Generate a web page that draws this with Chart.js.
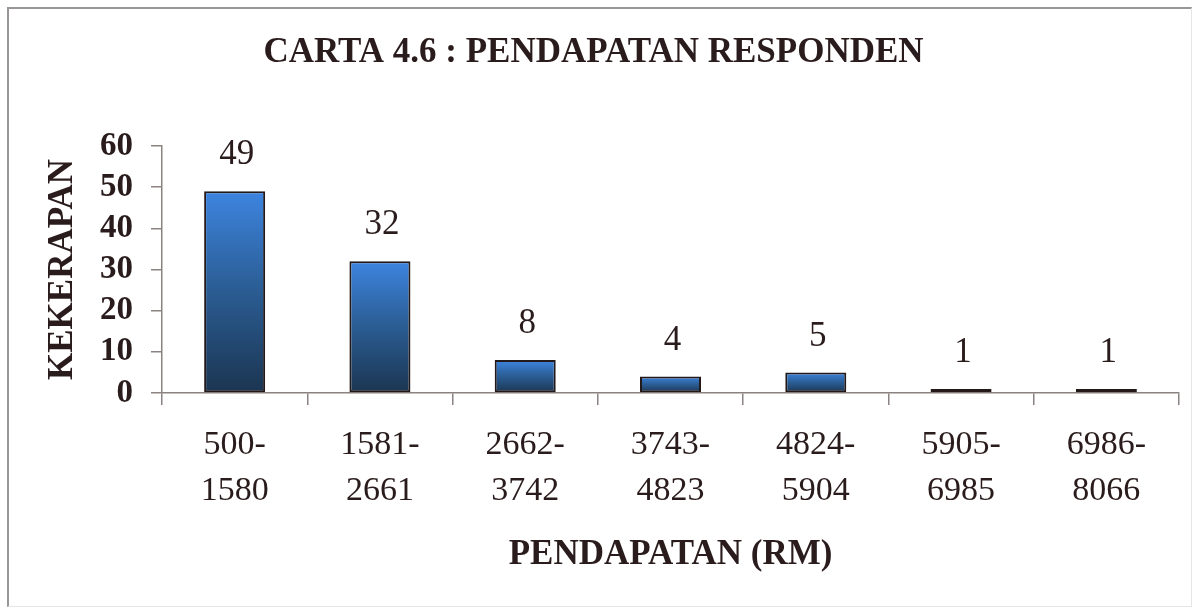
<!DOCTYPE html>
<html>
<head>
<meta charset="utf-8">
<script src="https://cdn.jsdelivr.net/npm/chart.js@4/dist/chart.umd.min.js"></script>
<style>
  html, body { margin: 0; padding: 0; background: #fff; }
  #wrap { position: relative; width: 1196px; height: 608px; }
  #frame {
    position: absolute; left: 7px; top: 7px; width: 1182px; height: 597px;
    border-left: 2px solid #9a9696; border-top: 2px solid #9a9696;
    border-right: 1px solid #e6e6e6; border-bottom: 1px solid #e6e6e6;
    pointer-events: none;
  }
</style>
</head>
<body>
<div id="wrap">
  <canvas id="chart" width="1196" height="608"></canvas>
  <div id="frame"></div>
</div>
<script>
// data
const categories = [
  ['500-', '1580'], ['1581-', '2661'], ['2662-', '3742'], ['3743-', '4823'],
  ['4824-', '5904'], ['5905-', '6985'], ['6986-', '8066']
];
const kekerapan = [49, 32, 8, 4, 5, 1, 1];
const yTicks = { min: 0, max: 60, step: 10 };

const SERIF = "'Liberation Serif', 'Times New Roman', serif";
const INK = '#2a1c1c';
const AXIS = '#8c8282';

function barGradient(context) {
  const chart = context.chart;
  const y = chart.scales && chart.scales.y;
  if (!y || context.type !== 'data') return '#2c5f97';
  const top = y.getPixelForValue(context.raw);
  const base = y.getPixelForValue(0);
  if (!isFinite(top) || !isFinite(base) || top === base) return '#2c5f97';
  const g = chart.ctx.createLinearGradient(0, top, 0, base);
  g.addColorStop(0, '#3d84e0');
  g.addColorStop(0.45, '#2c6099');
  g.addColorStop(1, '#1b3551');
  return g;
}

// value labels above each bar
const valueLabels = {
  id: 'valueLabels',
  afterDatasetsDraw(chart) {
    const { ctx } = chart;
    const meta = chart.getDatasetMeta(0);
    ctx.save();
    ctx.font = '35px ' + SERIF;
    ctx.fillStyle = INK;
    ctx.textAlign = 'center';
    ctx.textBaseline = 'middle';
    meta.data.forEach((bar, i) => {
      ctx.fillText(String(kekerapan[i]), bar.x + 2, bar.y - 36);
    });
    ctx.restore();
  }
};

new Chart(document.getElementById('chart'), {
  type: 'bar',
  data: {
    labels: categories,
    datasets: [{
      data: kekerapan,
      backgroundColor: barGradient,
      borderColor: '#231919',
      borderWidth: 2,
      borderSkipped: false,
      categoryPercentage: 0.42,
      barPercentage: 1,
    }]
  },
  options: {
    responsive: false,
    animation: false,
    layout: { padding: { left: 8, right: 17, top: 0, bottom: 0 } },
    plugins: {
      legend: { display: false },
      tooltip: { enabled: false },
      title: {
        display: true,
        text: 'CARTA 4.6 : PENDAPATAN RESPONDEN',
        color: INK,
        font: { family: SERIF, size: 35, weight: 'bold', lineHeight: 1.2 },
        padding: { top: 32, bottom: 72 }
      }
    },
    scales: {
      x: {
        offset: true,
        grid: { display: true, drawOnChartArea: false, offset: true, color: AXIS, lineWidth: 1.5, tickLength: 12 },
        border: { display: true, color: AXIS, width: 1.5 },
        ticks: { color: INK, padding: 17, maxRotation: 0, autoSkip: false,
                 font: { family: SERIF, size: 34, lineHeight: 1.35 } },
        title: {
          display: true, text: 'PENDAPATAN (RM)', color: INK,
          font: { family: SERIF, size: 35, weight: 'bold', lineHeight: 1.2 },
          padding: { top: 0, bottom: 32 }
        },
        afterFit(scale) { scale.height = 215; }
      },
      y: {
        min: yTicks.min, max: yTicks.max,
        grid: { display: true, drawOnChartArea: false, color: AXIS, lineWidth: 1.5, tickLength: 11 },
        border: { display: true, color: AXIS, width: 1.5 },
        ticks: { stepSize: yTicks.step, autoSkip: false, color: INK, padding: 18,
                 font: { family: SERIF, size: 33, weight: 'bold', lineHeight: 1 } },
        title: {
          display: true, text: 'KEKERAPAN', color: INK,
          font: { family: SERIF, size: 35, weight: 'bold', lineHeight: 1.2 },
          padding: { top: 34, bottom: 0 }
        },
        afterFit(scale) { scale.width = 154; }
      }
    }
  },
  plugins: [valueLabels]
});
</script>
</body>
</html>
